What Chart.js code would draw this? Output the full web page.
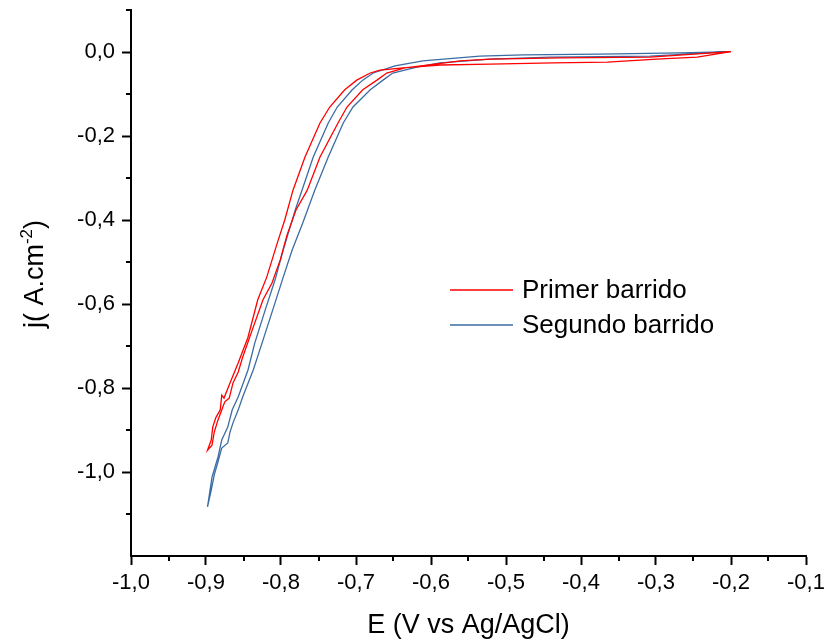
<!DOCTYPE html>
<html>
<head>
<meta charset="utf-8">
<script src="https://cdn.jsdelivr.net/npm/chart.js@4.4.1/dist/chart.umd.min.js"></script>
<style>
  html, body { margin: 0; padding: 0; background: #fff; }
  #chartCanvas { display: block; }
</style>
</head>
<body>
<canvas id="chartCanvas" width="830" height="642"></canvas>
<script>
"use strict";

// Potential (V vs Ag/AgCl) and current density.
// Each sweep: down one branch from -0.2 V to -0.9 V, then back up the other.
const primerE = [
  -0.200, -0.245, -0.299, -0.365, -0.437, -0.521, -0.588, -0.637, -0.668, -0.681,
  -0.699, -0.715, -0.735, -0.748, -0.768, -0.784, -0.795, -0.805, -0.819, -0.831,
  -0.844, -0.857, -0.868, -0.876, -0.879, -0.881, -0.887, -0.891, -0.893, -0.898,
  -0.892, -0.889, -0.884, -0.880, -0.875, -0.869, -0.864, -0.857, -0.851, -0.837,
  -0.824, -0.812, -0.801, -0.792, -0.780, -0.765, -0.748, -0.724, -0.712, -0.691,
  -0.672, -0.659, -0.635, -0.605, -0.561, -0.521, -0.428, -0.308, -0.200
];
const primerJ = [
  0.001, -0.012, -0.017, -0.024, -0.026, -0.029, -0.031, -0.038, -0.043, -0.050,
  -0.067, -0.090, -0.131, -0.169, -0.250, -0.329, -0.400, -0.455, -0.536, -0.590,
  -0.679, -0.740, -0.788, -0.824, -0.817, -0.852, -0.871, -0.893, -0.924, -0.948,
  -0.936, -0.905, -0.876, -0.857, -0.833, -0.824, -0.788, -0.762, -0.726, -0.655,
  -0.590, -0.550, -0.495, -0.436, -0.376, -0.329, -0.250, -0.169, -0.131, -0.090,
  -0.067, -0.050, -0.038, -0.031, -0.021, -0.017, -0.014, -0.012, 0.001
];

const segundoE = [
  -0.200, -0.268, -0.375, -0.477, -0.535, -0.611, -0.648, -0.677, -0.691, -0.705,
  -0.725, -0.737, -0.757, -0.772, -0.781, -0.797, -0.808, -0.821, -0.835, -0.844,
  -0.857, -0.865, -0.871, -0.879, -0.884, -0.892, -0.895, -0.898,
  -0.893, -0.889, -0.884, -0.879, -0.871, -0.868, -0.864, -0.857, -0.851, -0.837,
  -0.824, -0.811, -0.797, -0.785, -0.771, -0.755, -0.737, -0.717, -0.704, -0.681,
  -0.664, -0.651, -0.619, -0.588, -0.521, -0.441, -0.308, -0.200
];
const segundoJ = [
  0.001, -0.002, -0.005, -0.007, -0.010, -0.021, -0.033, -0.050, -0.067, -0.090,
  -0.131, -0.169, -0.250, -0.329, -0.376, -0.471, -0.543, -0.614, -0.693, -0.757,
  -0.821, -0.852, -0.893, -0.924, -0.964, -1.012, -1.048, -1.083,
  -1.043, -1.007, -0.976, -0.943, -0.931, -0.905, -0.883, -0.852, -0.821, -0.757,
  -0.686, -0.614, -0.536, -0.471, -0.407, -0.329, -0.250, -0.169, -0.131, -0.090,
  -0.067, -0.050, -0.036, -0.026, -0.017, -0.012, -0.010, 0.001
];

const seriesLabels = ["Primer barrido", "Segundo barrido"];
const seriesColors = ["#ff0000", "#3b6ca3"];

const xMin = -1.0, xMax = -0.1, xStep = 0.1;
const yMin = -1.2, yMax = 0.1, yStep = 0.2;

const FONT = "'Liberation Sans', Arial, sans-serif";

function toPoints(xs, ys) {
  return xs.map((x, i) => ({ x: x, y: ys[i] }));
}

function commaLabel(v) {
  return (Math.abs(v) < 1e-9 ? 0 : v).toFixed(1).replace(".", ",");
}

// short outward ticks between the labelled ones
const minorTicks = {
  id: "minorTicks",
  afterDraw(chart) {
    const { ctx, scales } = chart;
    const xs = scales.x, ys = scales.y;
    const area = chart.chartArea;
    ctx.save();
    ctx.strokeStyle = "#000";
    ctx.lineWidth = 2;
    ctx.beginPath();
    for (let v = xMin + xStep / 2; v < xMax; v += xStep) {
      const px = Math.round(xs.getPixelForValue(v));
      ctx.moveTo(px, area.bottom);
      ctx.lineTo(px, area.bottom + 5);
    }
    for (let v = yMin + yStep / 2; v <= yMax + 1e-9; v += yStep) {
      const py = Math.round(ys.getPixelForValue(v));
      ctx.moveTo(area.left, py);
      ctx.lineTo(area.left - 5, py);
    }
    ctx.stroke();
    ctx.restore();
  }
};

// y title with a real superscript
const yTitle = {
  id: "yTitle",
  afterDraw(chart) {
    const { ctx } = chart;
    const big = "27px " + FONT, small = "17px " + FONT;
    ctx.save();
    ctx.fillStyle = "#000";
    ctx.textBaseline = "middle";
    ctx.font = big;
    const a = "j( A.cm", c = ")";
    const wa = ctx.measureText(a).width, wc = ctx.measureText(c).width;
    ctx.font = small;
    const b = "-2";
    const wb = ctx.measureText(b).width;
    const total = wa + wb + wc;
    ctx.translate(36, 274);
    ctx.rotate(-Math.PI / 2);
    let x = -total / 2;
    ctx.font = big;
    ctx.fillText(a, x, 0);
    x += wa;
    ctx.font = small;
    ctx.fillText(b, x, -9);
    x += wb;
    ctx.font = big;
    ctx.fillText(c, x, 0);
    ctx.restore();
  }
};

// legend inside the plot
const insideLegend = {
  id: "insideLegend",
  afterDraw(chart) {
    const { ctx } = chart;
    ctx.save();
    ctx.font = "26px " + FONT;
    ctx.textBaseline = "middle";
    chart.data.datasets.forEach((ds, i) => {
      const y = 290 + i * 35;
      ctx.strokeStyle = ds.borderColor;
      ctx.lineWidth = 1.3;
      ctx.beginPath();
      ctx.moveTo(450, y);
      ctx.lineTo(513, y);
      ctx.stroke();
      ctx.fillStyle = "#000";
      ctx.fillText(ds.label, 522, y + 1);
    });
    ctx.restore();
  }
};

const ctx = document.getElementById("chartCanvas").getContext("2d");

new Chart(ctx, {
  type: "scatter",
  data: {
    datasets: [
      {
        label: seriesLabels[0],
        data: toPoints(primerE, primerJ),
        borderColor: seriesColors[0],
        backgroundColor: seriesColors[0],
        borderWidth: 1.3,
        showLine: true,
        pointRadius: 0,
        tension: 0,
      },
      {
        label: seriesLabels[1],
        data: toPoints(segundoE, segundoJ),
        borderColor: seriesColors[1],
        backgroundColor: seriesColors[1],
        borderWidth: 1.3,
        showLine: true,
        pointRadius: 0,
        tension: 0,
      },
    ],
  },
  options: {
    responsive: false,
    animation: false,
    layout: { padding: { left: 0, top: 10, right: 24, bottom: 0 } },
    plugins: {
      legend: { display: false },
      tooltip: { enabled: false },
    },
    scales: {
      x: {
        type: "linear",
        min: xMin,
        max: xMax,
        afterFit(scale) {
          scale.height = 86;
          scale.paddingLeft = 0;
          scale.paddingRight = 0;
        },
        border: { display: true, color: "#000", width: 2 },
        grid: { drawOnChartArea: false, tickLength: 9, tickColor: "#000", tickWidth: 2 },
        ticks: {
          stepSize: xStep,
          autoSkip: false,
          maxRotation: 0,
          padding: 5,
          color: "#000",
          font: { family: FONT, size: 22 },
          callback: (v) => commaLabel(v),
        },
        title: {
          display: true,
          text: "E (V vs Ag/AgCl)",
          color: "#000",
          font: { family: FONT, size: 27 },
          padding: { top: 4, bottom: 0 },
        },
      },
      y: {
        type: "linear",
        min: yMin,
        max: yMax,
        afterFit(scale) {
          scale.width = 131;
          scale.paddingTop = 0;
          scale.paddingBottom = 0;
        },
        border: { display: true, color: "#000", width: 2 },
        grid: { drawOnChartArea: false, tickLength: 9, tickColor: "#000", tickWidth: 2 },
        ticks: {
          stepSize: yStep,
          includeBounds: false,
          padding: 7,
          color: "#000",
          font: { family: FONT, size: 22 },
          callback: (v) => commaLabel(v),
        },
      },
    },
  },
  plugins: [minorTicks, yTitle, insideLegend],
});
</script>
</body>
</html>
